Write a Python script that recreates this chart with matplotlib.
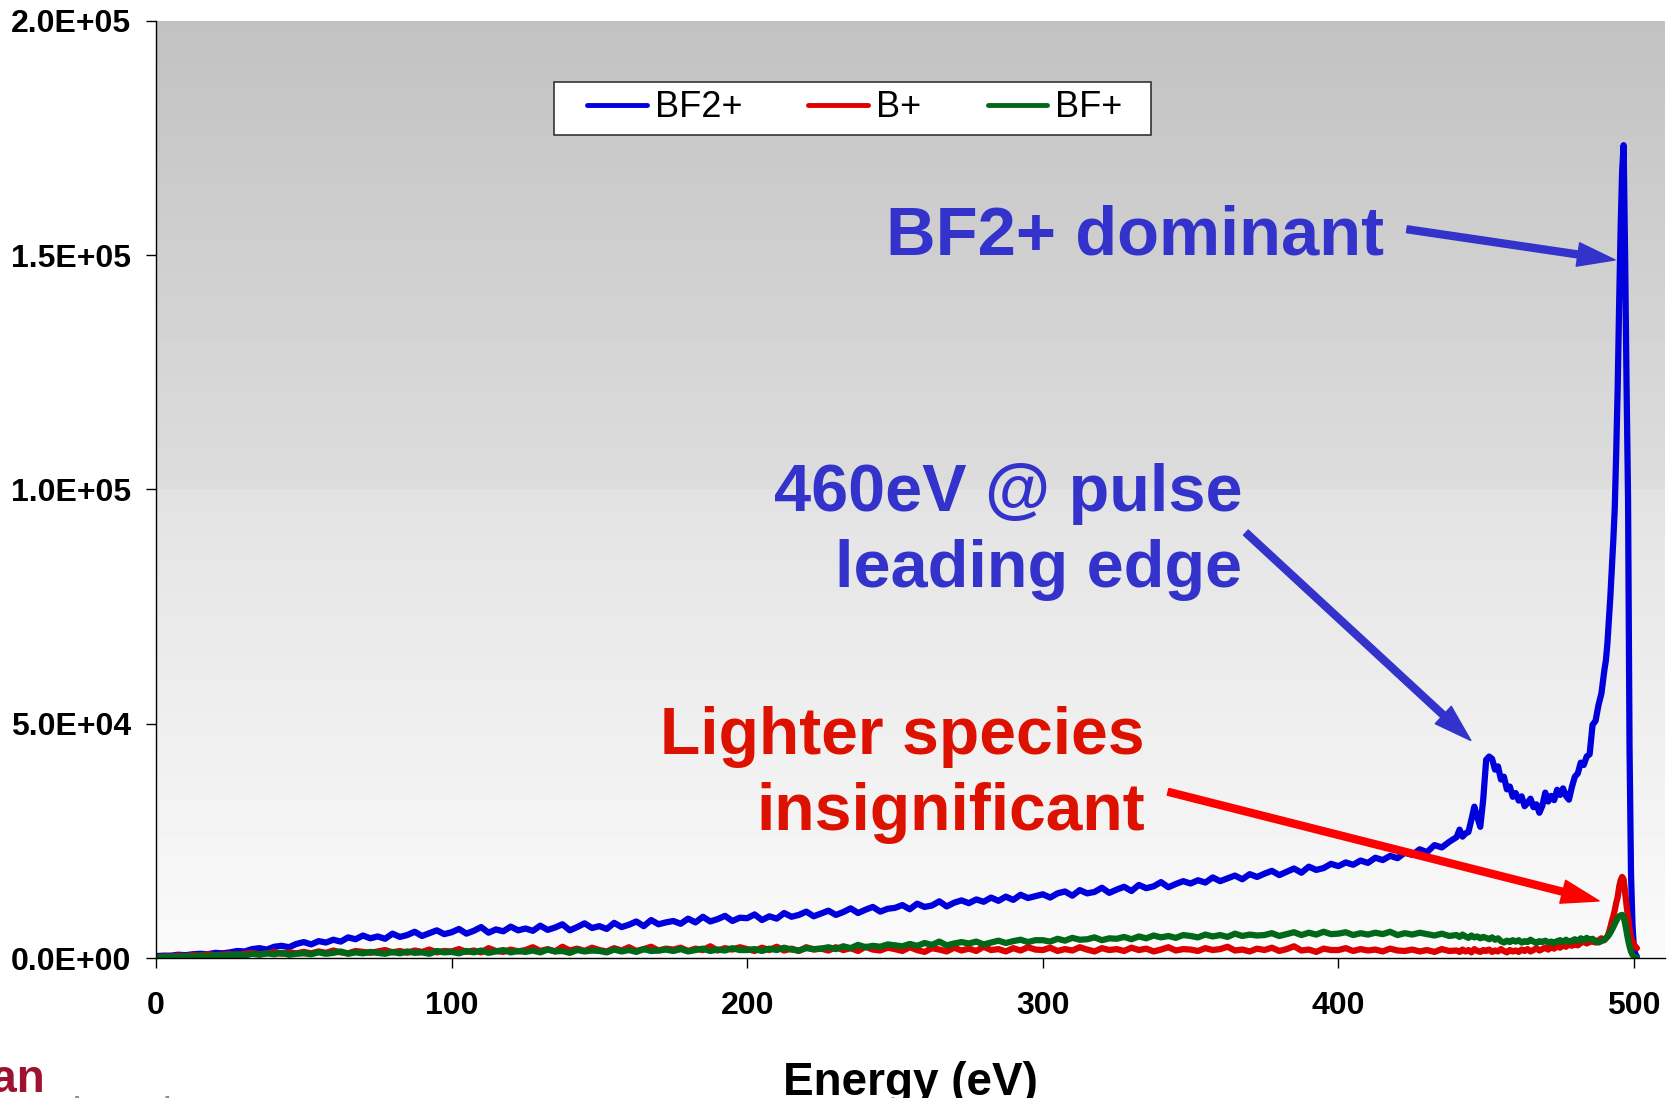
import numpy as np
import matplotlib
matplotlib.use("Agg")
import matplotlib.pyplot as plt
from matplotlib.patches import FancyArrowPatch, Rectangle

plt.rcParams["font.family"] = ["Liberation Sans", "DejaVu Sans"]

# energy channels (eV): coarse over the low-energy tail, finer through the peak
energy = np.concatenate([
    np.arange(0, 440, 2.5),
    np.arange(440, 490, 1.0),
    np.arange(490, 501.01, 0.5),
])

# ion counts, in thousands
bf2_k = [
    0.4, 0.5, 0.5, 0.7, 0.6, 0.8, 0.9, 0.8, 1.1, 1.0,
    1.2, 1.5, 1.4, 1.9, 2.1, 1.8, 2.4, 2.6, 2.3, 3.0,
    3.4, 2.9, 3.6, 3.3, 3.9, 3.5, 4.4, 4.0, 4.8, 4.2,
    4.6, 4.1, 5.2, 4.5, 4.9, 5.6, 4.7, 5.3, 5.9, 5.1,
    5.5, 6.2, 5.2, 5.8, 6.6, 5.4, 6.1, 5.7, 6.7, 5.9,
    6.3, 5.8, 6.9, 6.0, 6.5, 7.2, 5.9, 6.6, 7.4, 6.4,
    6.8, 6.2, 7.5, 6.6, 7.1, 7.8, 6.8, 8.1, 7.2, 7.6,
    7.9, 7.3, 8.4, 7.6, 8.8, 7.8, 8.3, 9.0, 7.9, 8.6,
    8.5, 9.3, 8.1, 8.9, 8.4, 9.6, 8.8, 9.2, 9.9, 8.9,
    9.5, 10.1, 9.2, 9.8, 10.6, 9.6, 10.3, 10.9, 9.9, 10.5,
    10.7, 11.3, 10.4, 11.6, 10.9, 11.2, 12.1, 11.0, 11.8, 12.3,
    11.7, 12.5, 12.0, 12.9, 12.2, 13.1, 12.4, 13.5, 12.8, 13.2,
    13.6, 12.9, 13.8, 14.2, 13.3, 14.5, 13.8, 14.1, 15.0, 13.9,
    14.6, 15.2, 14.3, 15.6, 14.9, 15.3, 16.2, 15.1, 15.8, 16.4,
    15.9, 16.6, 16.1, 17.2, 16.4, 17.0, 17.6, 16.8, 17.9, 17.3,
    18.0, 18.6, 17.7, 18.4, 19.1, 18.2, 19.5, 18.8, 19.2, 20.1,
    19.6, 20.4, 19.9, 20.8, 20.3, 21.4, 20.9, 21.8, 21.3, 22.5,
    22.0, 23.2, 22.6, 24.1, 23.6, 24.8,
    # 440 - 489 eV
    25.8, 27.4, 25.9, 26.6, 26.9, 29.5, 32.3, 30.1, 28.0, 33.8,
    42.3, 43.0, 42.5, 40.2, 40.9, 38.1, 38.7, 36.0, 36.6, 34.4,
    35.2, 33.6, 34.5, 32.4, 33.1, 34.0, 32.2, 32.8, 31.0, 32.5,
    35.3, 33.4, 34.6, 33.7, 35.9, 34.8, 36.2, 34.6, 33.8, 36.5,
    38.7, 39.4, 41.7, 41.2, 43.0, 43.5, 49.8, 50.6, 54.0, 56.5,
    # 490 - 501 eV
    61.5, 63.5, 67.0, 72.0, 77.0, 83.0, 89.0, 96.0, 108.0, 122.0,
    140.0, 156.0, 168.0, 173.5, 150.0, 122.0, 98.0, 45.0, 18.0, 7.0,
    2.0, 0.8, 0.3,
]

b_k = [
    0.2, 0.3, 0.3, 0.5, 0.4, 0.6, 0.5, 0.8, 0.6, 0.7,
    0.8, 0.6, 0.9, 1.1, 0.8, 1.0, 1.3, 0.9, 1.2, 1.0,
    1.3, 1.0, 1.4, 1.1, 1.6, 1.2, 1.0, 1.5, 1.3, 1.1,
    1.4, 1.7, 1.2, 1.5, 1.1, 1.6, 1.3, 1.8, 1.2, 1.5,
    1.4, 1.9, 1.3, 1.6, 1.2, 2.1, 1.5, 1.3, 1.8, 1.4,
    1.7, 2.3, 1.5, 1.9, 1.4, 2.4, 1.6, 2.0, 1.5, 2.2,
    1.7, 1.4, 2.1, 1.6, 2.3, 1.5, 1.9, 2.4, 1.6, 2.0,
    1.8, 2.2, 1.5, 2.0, 1.7, 2.5, 1.6, 2.1, 1.8, 2.3,
    1.9, 1.5, 2.2, 1.7, 2.4, 1.6, 2.0, 1.5, 2.3, 1.8,
    2.0, 1.6, 2.3, 1.7, 2.1, 1.5, 2.4, 1.8, 1.6, 2.2,
    1.9, 1.5, 2.3, 1.7, 1.3, 2.1, 1.8, 1.4, 2.2, 1.6,
    2.0, 1.5, 2.4, 1.7, 1.9, 1.4, 2.1, 1.6, 2.3, 1.8,
    1.7, 2.2, 1.5, 1.9, 1.6, 2.3, 1.8, 1.4, 2.1, 1.7,
    1.9, 1.5, 2.2, 1.7, 2.0, 1.4, 1.8, 2.3, 1.6, 1.9,
    1.8, 1.5, 2.1, 1.7, 1.9, 2.4, 1.6, 1.8, 1.4, 2.0,
    1.7, 2.2, 1.5, 1.9, 2.5, 1.6, 1.8, 1.3, 2.0, 1.7,
    1.7, 2.1, 1.5, 1.9, 1.6, 1.8, 1.4, 2.0, 1.6, 1.5,
    1.8, 1.4, 1.7, 1.3, 1.9, 1.5,
    # 440 - 489 eV
    1.6, 1.3, 1.8, 1.4, 1.7, 1.2, 1.9, 1.5, 1.3, 1.7,
    1.5, 1.8, 1.3, 1.6, 1.4, 1.9, 1.5, 1.2, 1.7, 1.4,
    1.6, 1.3, 1.8, 1.5, 1.9, 1.4, 1.7, 2.1, 1.6, 1.9,
    2.2, 1.8, 2.4, 2.0, 2.5, 2.2, 2.7, 2.4, 2.9, 2.6,
    3.0, 2.7, 3.2, 3.5, 3.1, 3.4, 3.6, 3.3, 3.8, 4.2,
    # 490 - 501 eV
    3.8, 4.2, 4.6, 5.4, 6.5, 7.8, 8.9, 10.2, 11.8, 13.0,
    15.2, 16.6, 17.3, 16.8, 14.0, 11.2, 8.8, 6.3, 4.5, 3.4,
    2.9, 2.4, 2.1,
]

bf_k = [
    0.1, 0.2, 0.3, 0.2, 0.4, 0.3, 0.5, 0.4, 0.6, 0.5,
    0.6, 0.8, 0.5, 0.9, 0.7, 1.0, 0.8, 1.1, 0.7, 0.9,
    1.0, 0.8, 1.2, 0.9, 1.1, 1.4, 0.9, 1.2, 1.0, 1.3,
    1.1, 0.9, 1.3, 1.0, 1.4, 1.1, 1.2, 0.9, 1.5, 1.2,
    1.3, 1.0, 1.5, 1.2, 1.6, 1.1, 1.4, 1.7, 1.2, 1.5,
    1.3, 1.6, 1.2, 1.8, 1.4, 1.5, 1.1, 1.7, 1.4, 1.6,
    1.5, 1.2, 1.8, 1.4, 1.7, 1.3, 1.9, 1.5, 1.6, 1.8,
    1.5, 1.9, 1.4, 1.7, 2.0, 1.5, 1.8, 1.6, 2.1, 1.7,
    1.7, 1.9, 1.5, 2.0, 1.7, 2.2, 1.8, 1.6, 2.1, 1.9,
    2.0, 2.3, 1.9, 2.5, 2.1, 2.8, 2.3, 2.6, 2.4, 2.9,
    2.7, 2.5, 3.0, 2.6, 3.2, 2.8, 3.5, 2.7, 3.1, 3.4,
    3.1, 3.5, 2.9, 3.3, 3.7, 3.2, 3.6, 3.9, 3.4, 3.8,
    3.8, 3.5, 4.1, 3.7, 4.3, 3.9, 4.0, 4.4, 3.8, 4.2,
    4.1, 4.5, 4.0, 4.6, 4.2, 4.8, 4.4, 4.7, 4.3, 4.9,
    4.7, 4.4, 5.0, 4.6, 4.9, 4.5, 5.2, 4.7, 5.0, 4.8,
    4.9, 5.3, 4.7, 5.1, 5.5, 4.9, 5.4, 5.0, 5.6, 5.1,
    5.2, 5.5, 4.9, 5.3, 5.0, 5.4, 5.1, 5.6, 4.9, 5.3,
    5.0, 5.4, 5.1, 4.8, 5.2, 4.7,
    # 440 - 489 eV
    4.9, 4.5, 5.0, 4.6, 4.3, 4.8, 4.4, 4.6, 4.2, 4.5,
    4.3, 4.0, 4.4, 3.9, 4.2, 3.6, 3.3, 3.7, 3.4, 3.8,
    3.5, 3.8, 3.3, 3.6, 3.4, 3.9, 3.5, 3.2, 3.6, 3.4,
    3.7, 3.3, 3.5, 3.2, 3.6, 3.8, 3.4, 3.9, 3.5, 3.7,
    4.0, 3.6, 4.2, 3.8, 4.3, 3.9, 4.1, 3.6, 3.3, 3.6,
    # 490 - 501 eV
    3.9, 4.2, 4.5, 4.9, 5.4, 6.0, 6.6, 7.3, 7.9, 8.5,
    8.9, 9.1, 9.2, 8.8, 7.4, 5.6, 3.9, 2.5, 1.4, 0.7,
    0.3, 0.1, 0.0,
]

series_labels = ["BF2+", "B+", "BF+"]
series_colors = ["#0000dc", "#dc0000", "#006818"]
series_values = [bf2_k, b_k, bf_k]

x_ticks = [0, 100, 200, 300, 400, 500]
y_ticks = [0, 50000, 100000, 150000, 200000]

ANN_BLUE = "#3333cc"
ANN_RED = "#dd1100"
ARROW_RED = "#ff0000"

fig = plt.figure(figsize=(16.77, 10.98), dpi=100)
ax = fig.add_axes([156 / 1677, 140 / 1098, 1509 / 1677, 937 / 1098])

# two-stage grey fill behind the plot area
upper = np.linspace(0.76, 0.865, 120)
lower = np.linspace(0.89, 0.98, 120)
shade = np.concatenate([upper, lower])[:, None]
ax.imshow(shade, extent=[0, 510.5, 0, 2e5], aspect="auto", cmap="gray",
          vmin=0, vmax=1, origin="upper", interpolation="nearest", zorder=0)

for vals, lbl, col in zip(series_values, series_labels, series_colors):
    ax.plot(energy, np.asarray(vals) * 1e3, color=col, lw=4.5, label=lbl,
            solid_joinstyle="round", solid_capstyle="round", zorder=2)

ax.set_xlim(0, 510.5)
ax.set_ylim(0, 2e5)
ax.set_xticks(x_ticks, labels=[str(v) for v in x_ticks], fontsize=23, fontweight="bold")
ax.set_yticks(y_ticks, labels=[f"{v:.1E}" for v in y_ticks], fontsize=23, fontweight="bold")
ax.tick_params(axis="both", direction="out", length=7, width=1, colors="black")
ax.tick_params(axis="y", pad=11)
ax.tick_params(axis="x", pad=17)
for side in ("top", "right"):
    ax.spines[side].set_visible(False)
for side in ("left", "bottom"):
    ax.spines[side].set_color("black")
    ax.spines[side].set_linewidth(1)

# legend, with a separate square frame around it
ax.add_patch(Rectangle((0.2638, 0.8783), 0.3956, 0.0569, transform=ax.transAxes,
                       facecolor="white", edgecolor="#333333", lw=1.2, zorder=4))
leg = ax.legend(loc="center left", bbox_to_anchor=(0.2856, 0.9072), ncol=3, frameon=False,
                fontsize=26, handlelength=1.66, handletextpad=0.22, columnspacing=1.83,
                borderpad=0, borderaxespad=0)
for line in leg.get_lines():
    line.set_linewidth(3.5)

text_kw = dict(ha="right", va="baseline", fontweight="bold")
ax.text(415.4, 150200, "BF2+ dominant", color=ANN_BLUE, fontsize=49.5, **text_kw)
ax.text(367.4, 95500, "460eV @ pulse", color=ANN_BLUE, fontsize=48, **text_kw)
ax.text(367.4, 79100, "leading edge", color=ANN_BLUE, fontsize=48, **text_kw)
ax.text(334.6, 43600, "Lighter species", color=ANN_RED, fontsize=47.5, **text_kw)
ax.text(334.6, 27350, "insignificant", color=ANN_RED, fontsize=47.5, **text_kw)


def add_arrow(tail, tip, color):
    ax.add_patch(FancyArrowPatch(
        tail, tip,
        arrowstyle="simple,head_length=27,head_width=17,tail_width=5",
        mutation_scale=1, color=color, shrinkA=0, shrinkB=0, zorder=6))


add_arrow((423.2, 155550), (493.6, 149000), ANN_BLUE)
add_arrow((368.7, 90800), (444.8, 46430), ANN_BLUE)
add_arrow((342.4, 35470), (488.2, 12180), ARROW_RED)

fig.text(0.5427, 0.0027, "Energy (eV)", ha="center", va="baseline",
         fontsize=33, fontweight="bold")

# company mark in the lower-left corner, partly off the page
fig.text(45 / 1677, 6 / 1098, "Varian", ha="right", va="baseline",
         fontsize=33, fontweight="bold", color="#9e1230")
fig.text(-0.003, -0.026, "semiconductor", ha="left", va="baseline",
         fontsize=30, color="#8c8c8c")

fig.savefig("out.png", dpi=100)
